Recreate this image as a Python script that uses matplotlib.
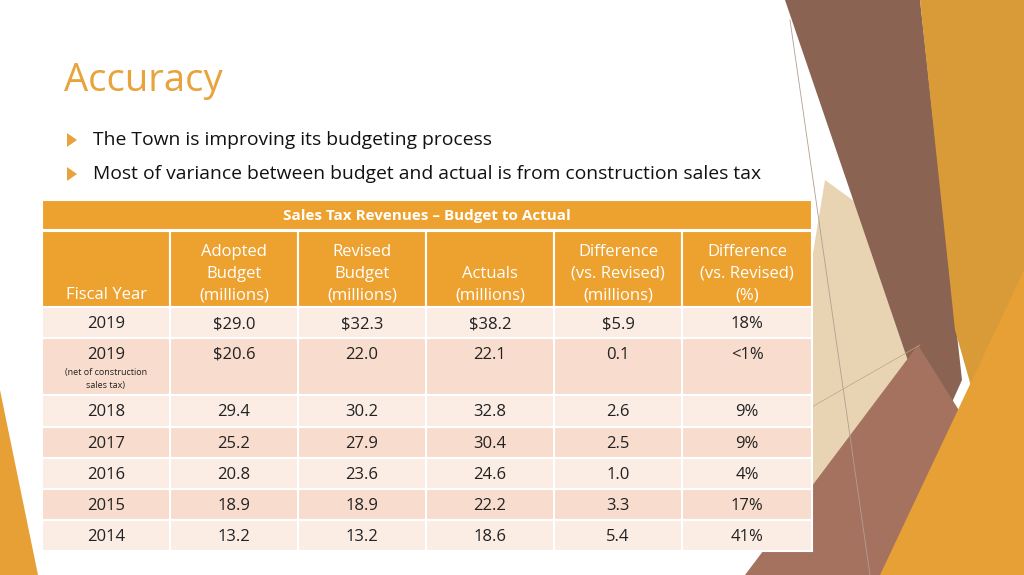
import matplotlib
matplotlib.use("Agg")
import matplotlib.pyplot as plt
from matplotlib.patches import Polygon, Rectangle

plt.rcParams['font.family'] = ['Open Sans', 'DejaVu Sans']

title = "Accuracy"
bullets = ["The Town is improving its budgeting process",
           "Most of variance between budget and actual is from construction sales tax"]
table_title = "Sales Tax Revenues – Budget to Actual"
headers = ["Fiscal Year", "Adopted\nBudget\n(millions)", "Revised\nBudget\n(millions)",
           "Actuals\n(millions)", "Difference\n(vs. Revised)\n(millions)", "Difference\n(vs. Revised)\n(%)"]
years = ["2019", "2019", "2018", "2017", "2016", "2015", "2014"]
adopted = ["$29.0", "$20.6", "29.4", "25.2", "20.8", "18.9", "13.2"]
revised = ["$32.3", "22.0", "30.2", "27.9", "23.6", "18.9", "13.2"]
actuals = ["$38.2", "22.1", "32.8", "30.4", "24.6", "22.2", "18.6"]
diff_m = ["$5.9", "0.1", "2.6", "2.5", "1.0", "3.3", "5.4"]
diff_p = ["18%", "<1%", "9%", "9%", "4%", "17%", "41%"]

fig = plt.figure(figsize=(10.24, 5.75), dpi=100)
ax = fig.add_axes([0, 0, 1, 1])
ax.set_xlim(0, 1024); ax.set_ylim(575, 0); ax.axis('off')

def poly(pts, c, a=1.0, z=0):
    ax.add_patch(Polygon(pts, closed=True, fc=c, ec='none', alpha=a, zorder=z))
poly([(825, 180), (880, 220), (960, 575), (760, 575)], '#e3c9a0', 0.8)
poly([(785, 0), (920, 0), (962, 380), (935, 440)], '#8a6352', 1)
poly([(920, 0), (1024, 0), (1024, 290), (975, 400), (955, 330)], '#d99a38', 1)
poly([(745, 575), (918, 345), (965, 420), (905, 575)], '#a57260', 1)
poly([(1024, 270), (880, 575), (1024, 575)], '#e6a035', 1)
poly([(0, 390), (38, 575), (0, 575)], '#e6a035', 1)
ax.plot([790, 870], [20, 575], color='#b0a090', lw=0.6)
ax.plot([810, 920], [408, 345], color='#c8a080', lw=0.5)

orange = '#e8a33c'
ax.text(64, 81, title, color=orange, fontsize=27.5, va='center', ha='left')
for i, b in enumerate(bullets):
    y = 140 + i * 34
    ax.add_patch(Polygon([(67, y - 7), (67, y + 7), (77, y)], fc=orange, ec='none'))
    ax.text(93, y, b, fontsize=13.9, va='center', ha='left', color='#111111')

cols = [42, 170, 298, 426, 554, 682, 812]
ax.add_patch(Rectangle((42, 200), 770, 30, fc='#eda22f', ec='white', lw=1.5, zorder=3))
ax.text(427, 216, table_title, color='white', fontsize=11, fontweight='bold', ha='center', va='center', zorder=4)
for j in range(6):
    ax.add_patch(Rectangle((cols[j], 231), cols[j+1]-cols[j], 76, fc='#eda22f', ec='white', lw=1.5, zorder=3))
    ax.text((cols[j]+cols[j+1])/2, 303, headers[j], color='white', fontsize=12, ha='center', va='bottom',
            linespacing=1.45, zorder=4)
rows_y = [307, 338, 395, 427, 458, 489, 520, 551]
data = [years, adopted, revised, actuals, diff_m, diff_p]
for i in range(7):
    y0, y1 = rows_y[i], rows_y[i+1]
    fc = '#fbece4' if i % 2 == 0 else '#f8dccd'
    for j in range(6):
        ax.add_patch(Rectangle((cols[j], y0), cols[j+1]-cols[j], y1-y0, fc=fc, ec='white', lw=1.5, zorder=3))
        ax.text((cols[j]+cols[j+1])/2, y0 + 17, data[j][i], fontsize=12, ha='center', va='center', color='#222222', zorder=4)
    if i == 1:
        ax.text(106, 379, "(net of construction\nsales tax)", fontsize=6.5, ha='center', va='center',
                color='#222222', zorder=4, linespacing=1.5)

fig.savefig("out.png", dpi=100, facecolor='white')
